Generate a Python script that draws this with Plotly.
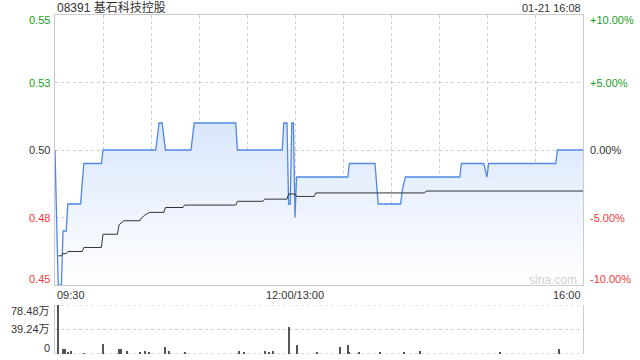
import plotly.graph_objects as go

# ---- data (minute index from 09:30; 0..150 = morning, 150..330 = afternoon) ----
price_t = [0, 2, 4, 5, 7, 8, 16, 18, 29, 30, 63, 65, 67, 69, 85, 87, 113, 114, 142, 143, 145, 146, 147,
           148, 149, 150, 151, 183, 184, 200, 202, 216, 217, 219, 253, 254, 268, 270, 271, 313, 314, 330]
price_v = [0.50, 0.45, 0.45, 0.47, 0.47, 0.48, 0.48, 0.495, 0.495, 0.50, 0.50, 0.51, 0.51, 0.50, 0.50, 0.51,
           0.51, 0.50, 0.50, 0.51, 0.51, 0.48, 0.48, 0.51, 0.51, 0.475, 0.49, 0.49, 0.495, 0.495, 0.48, 0.48,
           0.485, 0.49, 0.49, 0.495, 0.495, 0.49, 0.495, 0.495, 0.50, 0.50]

avg_t = [2, 4, 5, 7, 8, 17, 18, 29, 30, 39, 40, 43, 53, 54, 56, 59, 68, 69, 80, 81, 113, 114, 130, 131,
         145, 146, 150, 151, 162, 163, 231, 232, 330]
avg_v = [0.4608, 0.4608, 0.4616, 0.4616, 0.4624, 0.4624, 0.4639, 0.4639, 0.4688, 0.4688, 0.4723, 0.4738,
         0.4738, 0.4748, 0.4758, 0.4769, 0.4769, 0.4787, 0.4787, 0.4796, 0.4796, 0.4810, 0.4810, 0.4818,
         0.4818, 0.4837, 0.4837, 0.4828, 0.4828, 0.4841, 0.4841, 0.4848, 0.4848]

vol_t = [2, 5, 6, 8, 10, 18, 30, 40, 41, 45, 53, 56, 59, 69, 71, 81, 115, 118, 131, 134, 136, 146, 151,
         164, 178, 183, 184, 190, 203, 218, 228, 278, 315]
vol_v = [78.48, 8.5, 8.5, 4.0, 5.0, 1.5, 15.4, 8.5, 8.5, 5.0, 4.0, 5.0, 2.5, 11.7, 5.0, 3.0, 5.0, 3.7,
         5.0, 2.5, 5.0, 43.0, 14.8, 3.0, 11.7, 14.8, 3.0, 3.7, 2.0, 3.7, 5.0, 3.7, 8.5]

prev_close = 0.50
y_ticks = [0.45, 0.475, 0.50, 0.525, 0.55]
y_labels = ["0.45", "0.48", "0.50", "0.53", "0.55"]
pct_labels = ["-10.00%", "-5.00%", "0.00%", "+5.00%", "+10.00%"]
vol_ticks = [0, 39.24, 78.48]
vol_labels = ["0", "39.24万", "78.48万"]
x_tick_pos = [0, 150, 330]
x_tick_labels = ["09:30", "12:00/13:00", "16:00"]
title = "08391 基石科技控股"
stamp = "01-21 16:08"

GREEN = "#1a9e1a"
RED = "#f03a3a"
DARK = "#333333"
FONT = "Liberation Sans, Arial, Noto Sans CJK SC, sans-serif"

fig = go.Figure()
fig.add_trace(go.Scatter(
    x=price_t, y=price_v, mode="lines", line=dict(color="#4f88e6", width=1.3),
    fill="tozeroy",
    fillgradient=dict(type="vertical", start=0.45, stop=0.51,
                      colorscale=[[0, "rgba(255,255,255,1)"], [1, "rgba(218,230,251,1)"]]),
    xaxis="x", yaxis="y", hoverinfo="skip"))
fig.add_trace(go.Scatter(
    x=avg_t, y=avg_v, mode="lines", line=dict(color="#333333", width=1),
    xaxis="x", yaxis="y", hoverinfo="skip"))
fig.add_trace(go.Bar(
    x=vol_t, y=vol_v, width=0.7, marker=dict(color="#555555", line=dict(width=0)),
    xaxis="x2", yaxis="y2", hoverinfo="skip"))

H = 360
top_m, bot_m = 15, 6
plot_h = H - top_m - bot_m


def py(pix):
    return (H - bot_m - pix) / plot_h


fig.update_layout(
    width=640, height=360,
    margin=dict(l=55, r=57, t=top_m, b=bot_m),
    paper_bgcolor="white", plot_bgcolor="white",
    showlegend=False, bargap=0,
    font=dict(family=FONT, size=11, color=DARK),
    xaxis=dict(domain=[0, 1], range=[0, 330], tickvals=list(range(30, 330, 30)),
               showticklabels=False, ticks="", showgrid=True, gridcolor="#cfcfcf",
               griddash="dot", gridwidth=1, showline=True, linecolor="#cccccc",
               mirror=True, zeroline=False, anchor="y"),
    yaxis=dict(domain=[py(285), 1], range=[0.45, 0.55], tickvals=y_ticks[1:-1],
               showticklabels=False, ticks="", showgrid=True, gridcolor="#cfcfcf",
               griddash="dot", showline=True, linecolor="#cccccc", mirror=True,
               zeroline=False, anchor="x"),
    xaxis2=dict(domain=[0, 1], range=[0, 330], showticklabels=False, ticks="",
                showgrid=False, showline=False, zeroline=False, anchor="y2"),
    yaxis2=dict(domain=[0, py(305)], range=[0, 78.48], showticklabels=False, ticks="",
                showgrid=False, showline=True, linecolor="#cccccc", mirror=True,
                zeroline=False, anchor="x2"),
)

# volume panel dotted lines
for v in vol_ticks:
    fig.add_shape(type="line", xref="x2", yref="y2", x0=0, x1=330, y0=v, y1=v,
                  line=dict(color="#bbbbbb" if v == 0 else "#cfcfcf", width=1, dash="dot"),
                  layer="below")

ann = []
# left price labels and right percent labels
shifts = [6, 0, 0, 0, -5]
for v, lab, pl, s in zip(y_ticks, y_labels, pct_labels, shifts):
    col = GREEN if v > prev_close else (RED if v < prev_close else DARK)
    ann.append(dict(x=0, xref="paper", y=v, yref="y", text=lab, showarrow=False,
                    xanchor="right", xshift=-3, yshift=s, font=dict(color=col, size=11)))
    ann.append(dict(x=1, xref="paper", y=v, yref="y", text=pl, showarrow=False,
                    xanchor="left", xshift=5, yshift=s, font=dict(color=col, size=11)))
# volume labels
vshift = [6, 1, -6]
for v, lab, s in zip(vol_ticks, vol_labels, vshift):
    ann.append(dict(x=0, xref="paper", y=v, yref="y2", text=lab, showarrow=False,
                    xanchor="right", xshift=-3, yshift=s, font=dict(color=DARK, size=11)))
# x tick labels
anchors = ["left", "center", "right"]
for p, lab, a in zip(x_tick_pos, x_tick_labels, anchors):
    ann.append(dict(x=p, xref="x", y=py(295), yref="paper", text=lab, showarrow=False,
                    xanchor=a, yanchor="middle", font=dict(color=DARK, size=11)))
# title and timestamp
ann.append(dict(x=0, xref="paper", y=py(8), yref="paper", text=title, showarrow=False,
                xanchor="left", yanchor="middle", font=dict(color=DARK, size=12)))
ann.append(dict(x=1, xref="paper", y=py(8), yref="paper", text=stamp, showarrow=False,
                xanchor="right", yanchor="middle", font=dict(color=DARK, size=11)))
# watermark
ann.append(dict(x=553, xref="x domain" if False else "paper", y=py(280), yref="paper",
                text="sina.com", showarrow=False, xanchor="center", yanchor="middle",
                font=dict(color="#d0d0d0", size=12)))
ann[-1]["x"] = (553 - 55) / (640 - 55 - 57)
fig.update_layout(annotations=ann)

fig.write_html("out.html")
